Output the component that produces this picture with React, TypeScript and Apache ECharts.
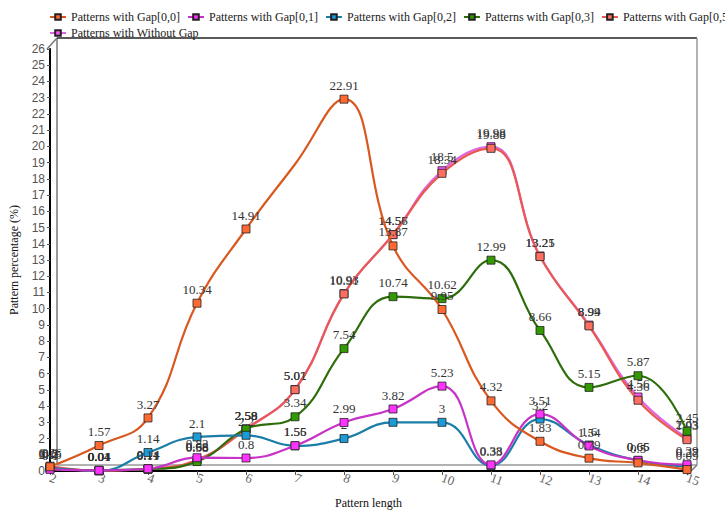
import React, { useEffect, useRef } from "react";
import * as echarts from "echarts";

const patternLengths = [2, 3, 4, 5, 6, 7, 8, 9, 10, 11, 12, 13, 14, 15];
const seriesNames = [
  "Patterns with Gap[0,0]",
  "Patterns with Gap[0,1]",
  "Patterns with Gap[0,2]",
  "Patterns with Gap[0,3]",
  "Patterns with Gap[0,5]",
  "Patterns with Without Gap",
];
const gap00 = [0.26, 1.57, 3.27, 10.34, 14.91, 18.9, 22.91, 13.87, 9.95, 4.32, 1.83, 0.79, 0.5, 0.09];
const gap01 = [0.1, 0.04, 0.14, 0.82, 0.8, 1.56, 2.99, 3.82, 5.23, 0.38, 3.51, 1.54, 0.66, 0.39];
const gap02 = [0.2, 0.01, 1.14, 2.1, 2.2, 1.55, 2, 3, 3, 0.33, 3.2, 1.6, 0.65, 0.27];
const gap03 = [0.15, 0.04, 0.11, 0.58, 2.59, 3.34, 7.54, 10.74, 10.62, 12.99, 8.66, 5.15, 5.87, 2.45];
const gap05 = [0.3, 0.01, 0.14, 0.68, 2.58, 5.01, 10.91, 14.56, 18.34, 19.88, 13.21, 8.94, 4.36, 1.93];
const withoutGap = [0.2, 0.04, 0.11, 0.68, 2.58, 5.02, 10.93, 14.57, 18.5, 19.98, 13.25, 8.99, 4.56, 2.03];
// points drawn without marker or label in the reference: [seriesIndex, pointIndex]
const hiddenPoints = [[0, 5]];

const markerColors = ["#ff6a33", "#ff33ff", "#1e9bd7", "#339900", "#ff6f61", "#ff55ff"];
const lineColors = ["#d9581f", "#c733c7", "#1b7ea8", "#2d6e0a", "#e85a50", "#e066e0"];

const allValues = [gap00, gap01, gap02, gap03, gap05, withoutGap];

export default function App() {
  const ref = useRef<HTMLDivElement>(null);
  useEffect(() => {
    if (!ref.current) return;
    const chart = echarts.init(ref.current, null, { renderer: "svg" });
    const serif = "Liberation Serif";
    const series = allValues.map((vals, si) => ({
      name: seriesNames[si],
      type: "line",
      smooth: 0.45,
      symbol: "rect",
      symbolSize: 8,
      z: 10 - si,
      itemStyle: { color: markerColors[si], borderColor: "#222", borderWidth: 0.8 },
      lineStyle: { color: lineColors[si], width: 2.2 },
      label: {
        show: true,
        position: "top",
        distance: 3,
        fontFamily: serif,
        fontSize: 13,
        color: "#333",
      },
      data: vals.map((v, i) => {
        const hidden = hiddenPoints.some(([s, p]) => s === si && p === i);
        return hidden
          ? { value: [patternLengths[i], v], symbol: "none", label: { show: false } }
          : { value: [patternLengths[i], v] };
      }),
    }));
    chart.setOption({
      animation: false,
      backgroundColor: "#fff",
      legend: [
        {
          data: seriesNames.slice(0, 5),
          left: 44,
          top: 6,
          width: 1200,
          itemWidth: 16,
          itemHeight: 7,
          itemGap: 7,
          textStyle: { fontFamily: serif, fontSize: 12, color: "#222" },
        },
        {
          data: seriesNames.slice(5),
          left: 44,
          top: 22,
          itemWidth: 16,
          itemHeight: 7,
          itemGap: 7,
          textStyle: { fontFamily: serif, fontSize: 12, color: "#222" },
        },
      ],
      grid: { left: 47, right: 38, top: 49, bottom: 39 },
      xAxis: {
        type: "value",
        min: 2,
        max: 15,
        interval: 1,
        name: "Pattern length",
        nameLocation: "middle",
        nameGap: 26,
        nameTextStyle: { fontFamily: serif, fontSize: 12, color: "#111" },
        axisLine: { lineStyle: { color: "#000", width: 2 } },
        axisTick: { show: true, length: 4, lineStyle: { color: "#555" } },
        axisLabel: { fontFamily: serif, fontSize: 13, color: "#666", rotate: -20, margin: 6 },
        splitLine: { show: false },
      },
      yAxis: {
        type: "value",
        min: 0,
        max: 26,
        interval: 1,
        name: "Pattern percentage (%)",
        nameLocation: "middle",
        nameGap: 30,
        nameTextStyle: { fontFamily: serif, fontSize: 12, color: "#111" },
        axisLine: { show: true, lineStyle: { color: "#000", width: 2 } },
        axisTick: { show: true, length: 3, lineStyle: { color: "#555" } },
        axisLabel: { fontFamily: "Liberation Sans", fontSize: 12, color: "#555", margin: 5 },
        splitLine: { show: false },
      },
      graphic: [
        { type: "line", shape: { x1: 57, y1: 38, x2: 57, y2: 465 }, style: { stroke: "#999", lineWidth: 2 }, z: 0 },
        { type: "line", shape: { x1: 57, y1: 465, x2: 697, y2: 465 }, style: { stroke: "#999", lineWidth: 1.5 }, z: 0 },
        { type: "line", shape: { x1: 57, y1: 38, x2: 697, y2: 38 }, style: { stroke: "#222", lineWidth: 1.5 }, z: 0 },
        { type: "line", shape: { x1: 697, y1: 38, x2: 697, y2: 465 }, style: { stroke: "#999", lineWidth: 1.5 }, z: 0 },
        { type: "line", shape: { x1: 47, y1: 49, x2: 57, y2: 38 }, style: { stroke: "#777", lineWidth: 1.5 }, z: 0 },
        { type: "line", shape: { x1: 687, y1: 475, x2: 697, y2: 465 }, style: { stroke: "#777", lineWidth: 1.5 }, z: 0 },
      ],
      series,
    });
    return () => chart.dispose();
  }, []);
  return <div ref={ref} style={{ width: 725, height: 514, position: "absolute", left: 0, top: 0 }} />;
}
